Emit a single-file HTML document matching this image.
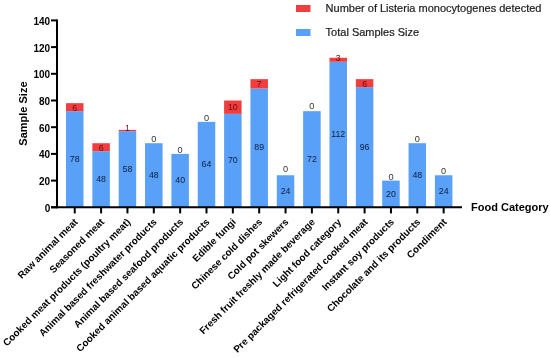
<!DOCTYPE html><html><head><meta charset="utf-8"><style>html,body{margin:0;padding:0;background:#fff;width:550px;height:358px;overflow:hidden}svg{display:block}text{font-family:"Liberation Sans",Arial,sans-serif}</style></head><body>
<svg width="550" height="358" viewBox="0 0 550 358">
<rect x="66.00" y="111.18" width="17.5" height="96.12" fill="#58a0f8"/>
<rect x="66.00" y="103.17" width="17.5" height="8.01" fill="#f03e40"/>
<rect x="92.35" y="151.23" width="17.5" height="56.07" fill="#58a0f8"/>
<rect x="92.35" y="143.22" width="17.5" height="8.01" fill="#f03e40"/>
<rect x="118.70" y="131.21" width="17.5" height="76.09" fill="#58a0f8"/>
<rect x="118.70" y="129.87" width="17.5" height="1.34" fill="#f03e40"/>
<rect x="145.05" y="143.22" width="17.5" height="64.08" fill="#58a0f8"/>
<rect x="171.40" y="153.90" width="17.5" height="53.40" fill="#58a0f8"/>
<rect x="197.75" y="121.86" width="17.5" height="85.44" fill="#58a0f8"/>
<rect x="224.10" y="113.85" width="17.5" height="93.45" fill="#58a0f8"/>
<rect x="224.10" y="100.50" width="17.5" height="13.35" fill="#f03e40"/>
<rect x="250.45" y="88.49" width="17.5" height="118.81" fill="#58a0f8"/>
<rect x="250.45" y="79.14" width="17.5" height="9.34" fill="#f03e40"/>
<rect x="276.80" y="175.26" width="17.5" height="32.04" fill="#58a0f8"/>
<rect x="303.15" y="111.18" width="17.5" height="96.12" fill="#58a0f8"/>
<rect x="329.50" y="61.79" width="17.5" height="145.51" fill="#58a0f8"/>
<rect x="329.50" y="57.78" width="17.5" height="4.00" fill="#f03e40"/>
<rect x="355.85" y="87.15" width="17.5" height="120.15" fill="#58a0f8"/>
<rect x="355.85" y="79.14" width="17.5" height="8.01" fill="#f03e40"/>
<rect x="382.20" y="180.60" width="17.5" height="26.70" fill="#58a0f8"/>
<rect x="408.55" y="143.22" width="17.5" height="64.08" fill="#58a0f8"/>
<rect x="434.90" y="175.26" width="17.5" height="32.04" fill="#58a0f8"/>
<g stroke="#000" stroke-width="2" fill="none">
<line x1="57" y1="19.4" x2="57" y2="208.3"/>
<line x1="51" y1="207.3" x2="462" y2="207.3"/>
<line x1="51" y1="207.30" x2="57" y2="207.30"/>
<line x1="51" y1="180.60" x2="57" y2="180.60"/>
<line x1="51" y1="153.90" x2="57" y2="153.90"/>
<line x1="51" y1="127.20" x2="57" y2="127.20"/>
<line x1="51" y1="100.50" x2="57" y2="100.50"/>
<line x1="51" y1="73.80" x2="57" y2="73.80"/>
<line x1="51" y1="47.10" x2="57" y2="47.10"/>
<line x1="51" y1="20.40" x2="57" y2="20.40"/>
<line x1="74.75" y1="207.3" x2="74.75" y2="213.40"/>
<line x1="101.10" y1="207.3" x2="101.10" y2="213.40"/>
<line x1="127.45" y1="207.3" x2="127.45" y2="213.40"/>
<line x1="153.80" y1="207.3" x2="153.80" y2="213.40"/>
<line x1="180.15" y1="207.3" x2="180.15" y2="213.40"/>
<line x1="206.50" y1="207.3" x2="206.50" y2="213.40"/>
<line x1="232.85" y1="207.3" x2="232.85" y2="213.40"/>
<line x1="259.20" y1="207.3" x2="259.20" y2="213.40"/>
<line x1="285.55" y1="207.3" x2="285.55" y2="213.40"/>
<line x1="311.90" y1="207.3" x2="311.90" y2="213.40"/>
<line x1="338.25" y1="207.3" x2="338.25" y2="213.40"/>
<line x1="364.60" y1="207.3" x2="364.60" y2="213.40"/>
<line x1="390.95" y1="207.3" x2="390.95" y2="213.40"/>
<line x1="417.30" y1="207.3" x2="417.30" y2="213.40"/>
<line x1="443.65" y1="207.3" x2="443.65" y2="213.40"/>
</g>
<g font-size="10" font-weight="bold" text-anchor="end" fill="#000">
<text x="50.2" y="211.70">0</text>
<text x="50.2" y="185.00">20</text>
<text x="50.2" y="158.30">40</text>
<text x="50.2" y="131.60">60</text>
<text x="50.2" y="104.90">80</text>
<text x="50.2" y="78.20">100</text>
<text x="50.2" y="51.50">120</text>
<text x="50.2" y="24.80">140</text>
</g>
<g font-size="8.8" font-weight="normal" text-anchor="middle">
<text x="74.75" y="161.84" fill="#0f1d3a">78</text>
<text x="74.75" y="110.58" fill="#6a0a0a">6</text>
<text x="101.10" y="181.87" fill="#0f1d3a">48</text>
<text x="101.10" y="150.63" fill="#6a0a0a">6</text>
<text x="127.45" y="171.85" fill="#0f1d3a">58</text>
<text x="127.45" y="130.87" fill="#6a0a0a">1</text>
<text x="153.80" y="177.86" fill="#0f1d3a">48</text>
<text x="153.80" y="142.20" fill="#333" font-weight="normal" font-size="9.2">0</text>
<text x="180.15" y="183.20" fill="#0f1d3a">40</text>
<text x="180.15" y="153.00" fill="#333" font-weight="normal" font-size="9.2">0</text>
<text x="206.50" y="167.18" fill="#0f1d3a">64</text>
<text x="206.50" y="120.60" fill="#333" font-weight="normal" font-size="9.2">0</text>
<text x="232.85" y="163.18" fill="#0f1d3a">70</text>
<text x="232.85" y="109.58" fill="#6a0a0a">10</text>
<text x="259.20" y="150.49" fill="#0f1d3a">89</text>
<text x="259.20" y="87.21" fill="#6a0a0a">7</text>
<text x="285.55" y="193.88" fill="#0f1d3a">24</text>
<text x="285.55" y="172.30" fill="#333" font-weight="normal" font-size="9.2">0</text>
<text x="311.90" y="161.84" fill="#0f1d3a">72</text>
<text x="311.90" y="108.50" fill="#333" font-weight="normal" font-size="9.2">0</text>
<text x="338.25" y="137.14" fill="#0f1d3a">112</text>
<text x="338.25" y="60.98" fill="#6a0a0a">3</text>
<text x="364.60" y="149.83" fill="#0f1d3a">96</text>
<text x="364.60" y="86.55" fill="#6a0a0a">6</text>
<text x="390.95" y="196.55" fill="#0f1d3a">20</text>
<text x="390.95" y="179.80" fill="#333" font-weight="normal" font-size="9.2">0</text>
<text x="417.30" y="177.86" fill="#0f1d3a">48</text>
<text x="417.30" y="142.30" fill="#333" font-weight="normal" font-size="9.2">0</text>
<text x="443.65" y="193.88" fill="#0f1d3a">24</text>
<text x="443.65" y="174.20" fill="#333" font-weight="normal" font-size="9.2">0</text>
</g>
<g font-size="9.9" font-weight="bold" text-anchor="end" fill="#000">
<text transform="translate(73.45,217.60) rotate(-45)" x="0" y="7">Raw animal meat</text>
<text transform="translate(99.80,217.60) rotate(-45)" x="0" y="7">Seasoned meat</text>
<text transform="translate(126.15,217.60) rotate(-45)" x="0" y="7">Cooked meat products (poultry meat)</text>
<text transform="translate(152.50,217.60) rotate(-45)" x="0" y="7">Animal based freshwater products</text>
<text transform="translate(178.85,217.60) rotate(-45)" x="0" y="7">Animal based seafood products</text>
<text transform="translate(205.20,217.60) rotate(-45)" x="0" y="7">Cooked animal based aquatic products</text>
<text transform="translate(231.55,217.60) rotate(-45)" x="0" y="7">Edible fungi</text>
<text transform="translate(257.90,217.60) rotate(-45)" x="0" y="7">Chinese cold dishes</text>
<text transform="translate(284.25,217.60) rotate(-45)" x="0" y="7">Cold pot skewers</text>
<text transform="translate(310.60,217.60) rotate(-45)" x="0" y="7">Fresh fruit freshly made beverage</text>
<text transform="translate(336.95,217.60) rotate(-45)" x="0" y="7">Light food category</text>
<text transform="translate(363.30,217.60) rotate(-45)" x="0" y="7">Pre packaged refrigerated cooked meat</text>
<text transform="translate(389.65,217.60) rotate(-45)" x="0" y="7">Instant soy products</text>
<text transform="translate(416.00,217.60) rotate(-45)" x="0" y="7">Chocolate and its products</text>
<text transform="translate(442.35,217.60) rotate(-45)" x="0" y="7">Condiment</text>
</g>
<text transform="translate(26.6,145.7) rotate(-90)" font-size="11" font-weight="bold" fill="#000">Sample Size</text>
<text x="471.0" y="211" font-size="11" font-weight="bold" fill="#000">Food Category</text>
<rect x="296" y="5" width="14.5" height="7" fill="#f03e40"/>
<rect x="296" y="29" width="14.5" height="7" fill="#58a0f8"/>
<text x="325.6" y="11.7" font-size="11" fill="#1a1a1a" stroke="#1a1a1a" stroke-width="0.2">Number of Listeria monocytogenes detected</text>
<text x="325.6" y="36.1" font-size="11" fill="#1a1a1a" stroke="#1a1a1a" stroke-width="0.2">Total Samples Size</text>
</svg></body></html>
